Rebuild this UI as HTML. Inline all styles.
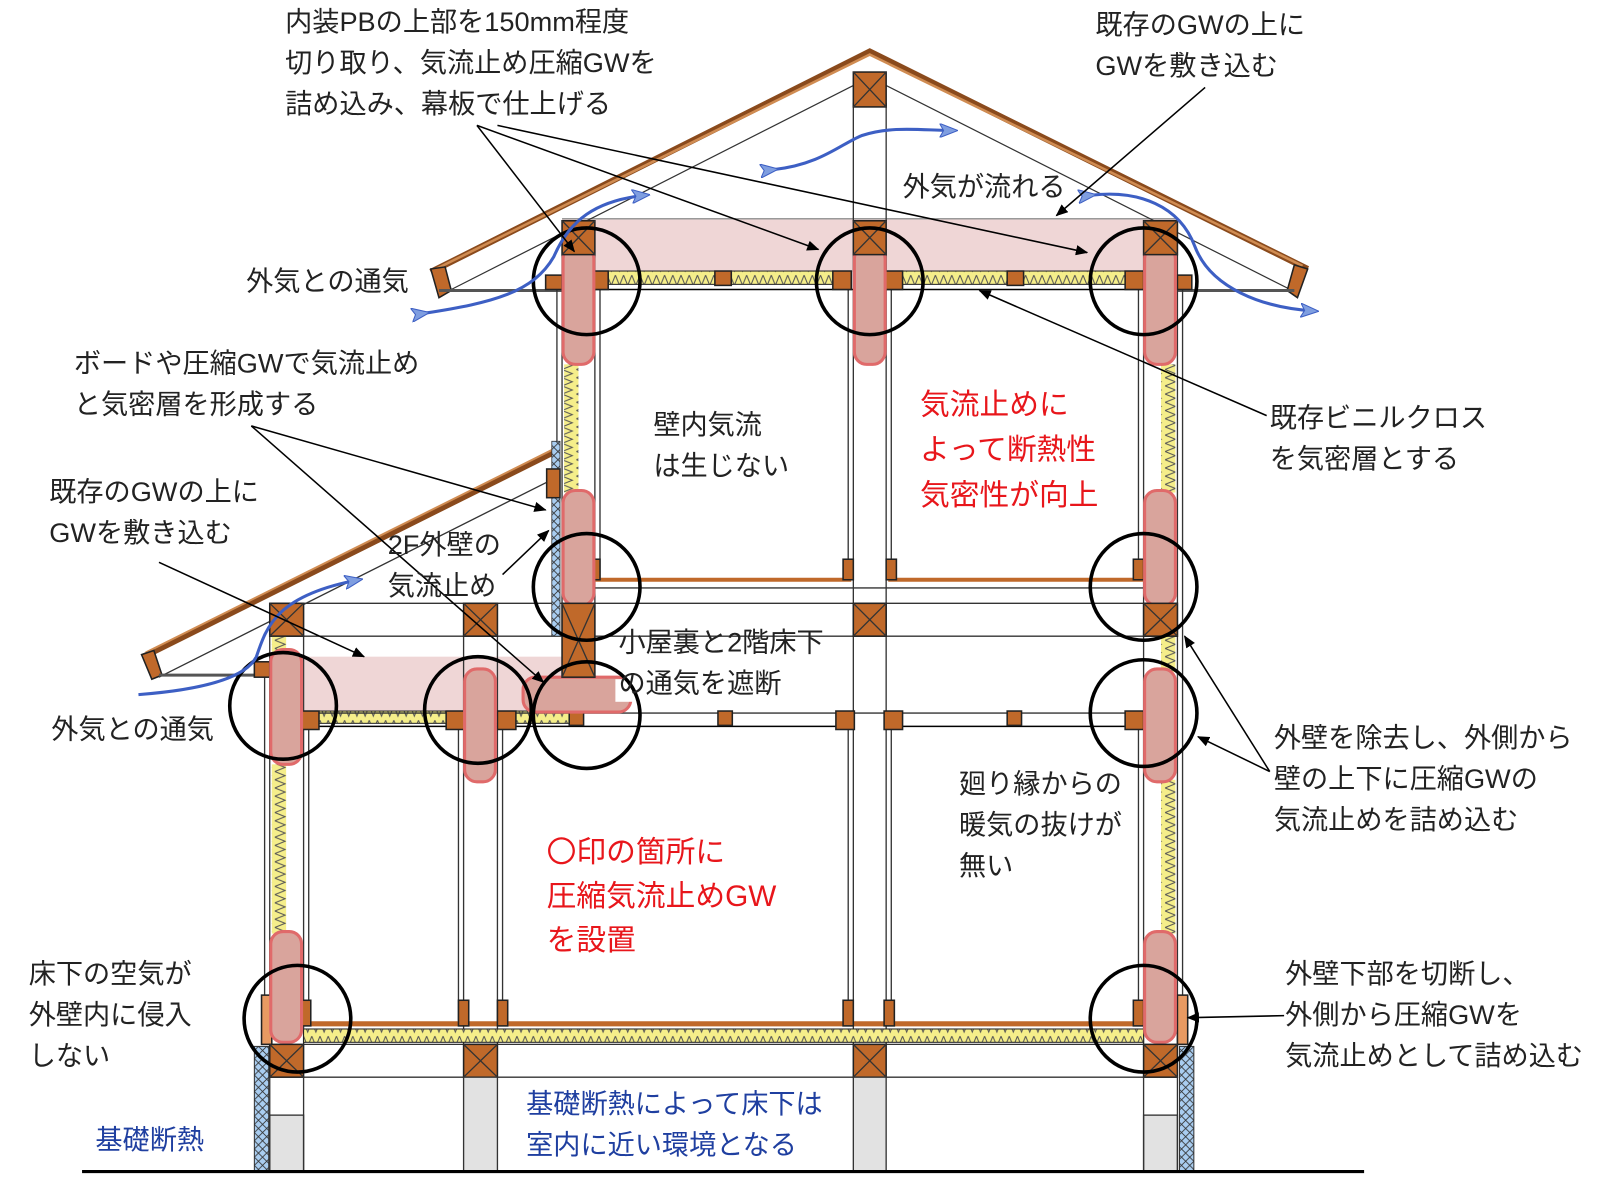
<!DOCTYPE html>
<html><head><meta charset="utf-8"><style>
html,body{margin:0;padding:0;background:#fff}
svg{display:block}
text{font-family:"Liberation Sans","Noto Sans CJK JP",sans-serif;font-size:26.5px;fill:#222}
.r{fill:#e8161b;font-size:29px}
.b{fill:#1f3fa0}
.blk{fill:#c0692a;stroke:#222;stroke-width:1.5}
.pad{fill:#d9a49c;stroke:#e06a6a;stroke-width:3}
.cir{fill:none;stroke:#000;stroke-width:3.5}
.ln{stroke:#000;stroke-width:1.5;fill:none}
.thin{stroke:#333;stroke-width:1.3;fill:none}
.air{fill:none;stroke:#3d5fc4;stroke-width:3}
</style></head><body>
<svg width="1600" height="1180" viewBox="0 0 1560 1150" xmlns="http://www.w3.org/2000/svg">
<defs>
<marker id="ah" markerWidth="12" markerHeight="10" refX="11" refY="5" orient="auto" markerUnits="userSpaceOnUse"><path d="M0,0 L12,5 L0,10 Z" fill="#000"/></marker>
<marker id="ab" markerWidth="18" markerHeight="14" refX="14" refY="7" orient="auto" markerUnits="userSpaceOnUse"><path d="M0,0 L18,7 L0,14 L4,7 Z" fill="#7f9ee0" stroke="#3d5fc4"/></marker>
<pattern id="zz" width="8" height="14" patternUnits="userSpaceOnUse"><rect width="8" height="14" fill="#f5ee8a"/><path d="M0,2 L4,12 L8,2" stroke="#555" fill="none" stroke-width="1"/></pattern>
<pattern id="zzv" width="14" height="8" patternUnits="userSpaceOnUse"><rect width="14" height="8" fill="#f5ee8a"/><path d="M2,0 L12,4 L2,8" stroke="#555" fill="none" stroke-width="1"/></pattern>
<pattern id="xh" width="8" height="8" patternUnits="userSpaceOnUse"><rect width="8" height="8" fill="#a9cdf0"/><path d="M0,0L8,8M8,0L0,8" stroke="#333" stroke-width="0.8"/></pattern>
</defs>

<rect x="548" y="213" width="600" height="52" fill="#efd6d6"/>
<line x1="548" y1="213" x2="1148" y2="213" stroke="#999" stroke-width="1.5"/>
<rect x="293" y="640" width="270" height="55" fill="#efd6d6"/>

<path d="M420,265 L848,50 L1275,262" fill="none" stroke="#8a4a1c" stroke-width="6"/>
<path d="M425,262 L848,53 L1270,259" fill="none" stroke="#d08c52" stroke-width="2.5"/>
<path d="M440,282 L848,75 L1258,282" fill="none" stroke="#333" stroke-width="1.2"/>
<path d="M420,262 L428,290 L440,283 L434,260Z" class="blk"/>
<path d="M1275,262 L1265,290 L1255,283 L1262,258Z" class="blk"/>
<line x1="428" y1="283" x2="548" y2="283" stroke="#555" stroke-width="3"/>
<line x1="1148" y1="283" x2="1262" y2="283" stroke="#555" stroke-width="3"/>
<line x1="832" y1="100" x2="832" y2="215" stroke="#333" stroke-width="1.3"/>
<line x1="864" y1="100" x2="864" y2="215" stroke="#333" stroke-width="1.3"/>
<rect x="832" y="70" width="32" height="34" class="blk"/><path d="M832,70L864,104M864,70L832,104" class="thin"/>

<path d="M140,640 L545,438" stroke="#8a4a1c" stroke-width="6" fill="none"/>
<path d="M142,636 L545,435" stroke="#d08c52" stroke-width="2" fill="none"/>
<path d="M155,660 L543,465" class="thin"/>
<path d="M138,638 L148,662 L158,658 L150,634Z" class="blk"/>
<line x1="155" y1="658" x2="263" y2="658" stroke="#555" stroke-width="3"/>

<line x1="263" y1="588" x2="1148" y2="588" class="thin"/>
<line x1="263" y1="620" x2="1148" y2="620" class="thin"/>
<line x1="296" y1="1050" x2="1115" y2="1050" class="thin"/>
<line x1="296" y1="1018" x2="1115" y2="1018" class="thin"/>

<g class="thin">
<line x1="543" y1="282" x2="543" y2="430"/>
<line x1="548" y1="248" x2="548" y2="620"/><line x1="580" y1="248" x2="580" y2="620"/>
<line x1="585" y1="282" x2="585" y2="565"/>
<line x1="832" y1="248" x2="832" y2="620"/><line x1="864" y1="248" x2="864" y2="620"/>
<line x1="827" y1="282" x2="827" y2="565"/><line x1="869" y1="282" x2="869" y2="565"/>
<line x1="1115" y1="248" x2="1115" y2="1018"/><line x1="1148" y1="248" x2="1148" y2="1018"/>
<line x1="1110" y1="282" x2="1110" y2="565"/><line x1="1110" y1="710" x2="1110" y2="995"/>
<line x1="1153" y1="282" x2="1153" y2="1018"/>
<line x1="258" y1="658" x2="258" y2="1000"/>
<line x1="263" y1="620" x2="263" y2="1018"/><line x1="296" y1="620" x2="296" y2="1018"/>
<line x1="301" y1="710" x2="301" y2="995"/>
<line x1="452" y1="620" x2="452" y2="1018"/><line x1="485" y1="620" x2="485" y2="1018"/>
<line x1="447" y1="710" x2="447" y2="995"/><line x1="490" y1="710" x2="490" y2="995"/>
<line x1="832" y1="620" x2="832" y2="1018"/><line x1="864" y1="620" x2="864" y2="1018"/>
<line x1="827" y1="710" x2="827" y2="995"/><line x1="869" y1="710" x2="869" y2="995"/>
</g>
<rect x="550" y="355" width="14" height="125" fill="url(#zzv)"/>
<rect x="1132" y="355" width="14" height="125" fill="url(#zzv)"/>
<rect x="1132" y="620" width="14" height="35" fill="url(#zzv)"/>
<rect x="1132" y="760" width="14" height="150" fill="url(#zzv)"/>
<rect x="265" y="620" width="14" height="15" fill="url(#zzv)"/>
<rect x="265" y="745" width="14" height="165" fill="url(#zzv)"/>
<rect x="538" y="430" width="8" height="190" fill="url(#xh)" stroke="#333" stroke-width="0.8"/>
<rect x="533" y="457" width="13" height="28" class="blk"/>

<rect x="575" y="264" width="255" height="13" fill="url(#zz)" stroke="#222"/>
<rect x="862" y="264" width="253" height="13" fill="url(#zz)" stroke="#222"/>
<line x1="575" y1="282" x2="1115" y2="282" class="ln"/>
<rect x="293" y="693" width="270" height="12" fill="url(#zz)" stroke="#222"/>
<line x1="293" y1="708" x2="832" y2="708" class="ln"/><line x1="864" y1="708" x2="1115" y2="708" class="ln"/>
<line x1="293" y1="695" x2="1115" y2="695" class="thin"/>
<line x1="580" y1="565" x2="830" y2="565" stroke="#c0692a" stroke-width="4"/>
<line x1="866" y1="565" x2="1115" y2="565" stroke="#c0692a" stroke-width="4"/>
<line x1="580" y1="573" x2="1115" y2="573" class="thin"/>
<line x1="296" y1="998" x2="1115" y2="998" stroke="#c0692a" stroke-width="5"/>
<rect x="296" y="1003" width="819" height="13" fill="url(#zz)" stroke="#222"/>

<g class="blk">
<rect x="575" y="264" width="18" height="18"/><rect x="697" y="264" width="16" height="14"/>
<rect x="812" y="264" width="18" height="18"/><rect x="862" y="264" width="18" height="18"/>
<rect x="982" y="264" width="16" height="14"/><rect x="1097" y="264" width="18" height="18"/>
<rect x="532" y="268" width="16" height="14"/><rect x="1148" y="268" width="14" height="14"/>
<rect x="293" y="693" width="18" height="18"/><rect x="435" y="693" width="18" height="18"/>
<rect x="485" y="693" width="18" height="18"/><rect x="555" y="693" width="14" height="14"/>
<rect x="700" y="693" width="14" height="14"/><rect x="815" y="693" width="18" height="18"/>
<rect x="862" y="693" width="18" height="18"/><rect x="982" y="693" width="14" height="14"/>
<rect x="1097" y="693" width="18" height="18"/><rect x="248" y="645" width="15" height="15"/>
<rect x="575" y="545" width="10" height="20"/><rect x="822" y="545" width="10" height="20"/>
<rect x="864" y="545" width="10" height="20"/><rect x="1105" y="545" width="10" height="20"/>
<rect x="293" y="975" width="10" height="25"/><rect x="447" y="975" width="10" height="25"/>
<rect x="485" y="975" width="10" height="25"/><rect x="822" y="975" width="10" height="25"/>
<rect x="862" y="975" width="10" height="25"/><rect x="1105" y="975" width="10" height="25"/>
<rect x="255" y="970" width="10" height="48" fill="#e89a62"/><rect x="1148" y="970" width="10" height="48" fill="#e89a62"/>
</g>

<g class="pad">
<rect x="549" y="240" width="30" height="115" rx="12"/>
<rect x="833" y="240" width="30" height="115" rx="12"/>
<rect x="1116" y="240" width="30" height="115" rx="12"/>
<rect x="549" y="478" width="30" height="112" rx="12"/>
<rect x="1116" y="478" width="30" height="112" rx="12"/>
<rect x="264" y="633" width="30" height="112" rx="12"/>
<rect x="453" y="652" width="30" height="110" rx="12"/>
<rect x="1116" y="652" width="30" height="110" rx="12"/>
<rect x="264" y="908" width="30" height="108" rx="12"/>
<rect x="1116" y="908" width="30" height="108" rx="12"/>
<rect x="510" y="660" width="105" height="34" rx="12"/>
</g>
<rect x="600" y="662" width="18" height="22" fill="#fff"/>

<g>
<rect x="548" y="215" width="32" height="33" class="blk"/><path d="M548,215L580,248M580,215L548,248" class="thin"/>
<rect x="832" y="215" width="32" height="33" class="blk"/><path d="M832,215L864,248M864,215L832,248" class="thin"/>
<rect x="1115" y="215" width="33" height="33" class="blk"/><path d="M1115,215L1148,248M1148,215L1115,248" class="thin"/>
<rect x="548" y="588" width="32" height="72" class="blk"/><path d="M548,588L580,660M580,588L548,660" class="thin"/>
<rect x="832" y="588" width="32" height="32" class="blk"/><path d="M832,588L864,620M864,588L832,620" class="thin"/>
<rect x="1115" y="588" width="33" height="32" class="blk"/><path d="M1115,588L1148,620M1148,588L1115,620" class="thin"/>
<rect x="263" y="588" width="33" height="32" class="blk"/><path d="M263,588L296,620M296,588L263,620" class="thin"/>
<rect x="452" y="588" width="33" height="32" class="blk"/><path d="M452,588L485,620M485,588L452,620" class="thin"/>
<rect x="263" y="1018" width="33" height="32" class="blk"/><path d="M263,1018L296,1050M296,1018L263,1050" class="thin"/>
<rect x="452" y="1018" width="33" height="32" class="blk"/><path d="M452,1018L485,1050M485,1018L452,1050" class="thin"/>
<rect x="832" y="1018" width="32" height="32" class="blk"/><path d="M832,1018L864,1050M864,1018L832,1050" class="thin"/>
<rect x="1115" y="1018" width="33" height="32" class="blk"/><path d="M1115,1018L1148,1050M1148,1018L1115,1050" class="thin"/>
</g>

<g stroke="#333" stroke-width="1.3">
<rect x="263" y="1087" width="33" height="55" fill="#e2e2e2"/>
<rect x="452" y="1050" width="33" height="92" fill="#e2e2e2"/>
<rect x="832" y="1050" width="32" height="92" fill="#e2e2e2"/>
<rect x="1115" y="1087" width="33" height="55" fill="#e2e2e2"/>
</g>
<line x1="263" y1="1050" x2="263" y2="1142" class="thin"/><line x1="296" y1="1050" x2="296" y2="1142" class="thin"/>
<line x1="1115" y1="1050" x2="1115" y2="1142" class="thin"/><line x1="1148" y1="1050" x2="1148" y2="1142" class="thin"/>
<rect x="248" y="1020" width="14" height="122" fill="url(#xh)" stroke="#333"/>
<rect x="1150" y="1020" width="14" height="122" fill="url(#xh)" stroke="#333"/>
<line x1="80" y1="1142" x2="1330" y2="1142" stroke="#000" stroke-width="3"/>

<g class="cir">
<circle cx="572" cy="274" r="52"/><circle cx="848" cy="274" r="52"/><circle cx="1115" cy="274" r="52"/>
<circle cx="572" cy="572" r="52"/><circle cx="1115" cy="572" r="52"/>
<circle cx="276" cy="688" r="52"/><circle cx="466" cy="692" r="52"/><circle cx="572" cy="697" r="52"/>
<circle cx="1115" cy="695" r="52"/>
<circle cx="290" cy="993" r="52"/><circle cx="1115" cy="993" r="52"/>
</g>

<g class="air">
<path d="M415,305 C480,295 520,285 540,250 C555,215 580,195 630,190" marker-end="url(#ab)" marker-start="url(#ab)"/>
<path d="M755,165 C800,160 820,140 840,132 C870,122 900,127 930,127" marker-end="url(#ab)" marker-start="url(#ab)"/>
<path d="M1065,190 C1110,185 1150,200 1165,240 C1180,280 1230,300 1282,303" marker-end="url(#ab)" marker-start="url(#ab)"/>
<path d="M135,677 C200,672 240,660 250,640 C260,610 270,580 350,565" marker-end="url(#ab)"/>
</g>

<g class="ln">
<line x1="465" y1="122" x2="560" y2="245" marker-end="url(#ah)"/>
<line x1="465" y1="122" x2="798" y2="243" marker-end="url(#ah)"/>
<line x1="485" y1="122" x2="1060" y2="246" marker-end="url(#ah)"/>
<line x1="1175" y1="85" x2="1030" y2="210" marker-end="url(#ah)"/>
<line x1="1235" y1="405" x2="955" y2="283" marker-end="url(#ah)"/>
<line x1="245" y1="415" x2="532" y2="497" marker-end="url(#ah)"/>
<line x1="245" y1="415" x2="530" y2="665" marker-end="url(#ah)"/>
<line x1="155" y1="548" x2="355" y2="640" marker-end="url(#ah)"/>
<line x1="490" y1="560" x2="535" y2="517" marker-end="url(#ah)"/>
<line x1="1238" y1="752" x2="1155" y2="620" marker-end="url(#ah)"/>
<line x1="1238" y1="752" x2="1168" y2="718" marker-end="url(#ah)"/>
<line x1="1252" y1="990" x2="1158" y2="992" marker-end="url(#ah)"/>
</g>

<text x="278" y="30">内装PBの上部を150mm程度</text>
<text x="278" y="70">切り取り、気流止め圧縮GWを</text>
<text x="278" y="110">詰め込み、幕板で仕上げる</text>
<text x="1068" y="33">既存のGWの上に</text>
<text x="1068" y="73">GWを敷き込む</text>
<text x="880" y="191">外気が流れる</text>
<text x="240" y="283">外気との通気</text>
<text x="72" y="363">ボードや圧縮GWで気流止め</text>
<text x="72" y="403">と気密層を形成する</text>
<text x="48" y="488">既存のGWの上に</text>
<text x="48" y="528">GWを敷き込む</text>
<text x="378" y="540">2F外壁の</text>
<text x="378" y="580">気流止め</text>
<text x="637" y="423">壁内気流</text>
<text x="637" y="463">は生じない</text>
<text class="r" x="897" y="404">気流止めに</text>
<text class="r" x="897" y="448">よって断熱性</text>
<text class="r" x="897" y="492">気密性が向上</text>
<text x="1238" y="416">既存ビニルクロス</text>
<text x="1238" y="456">を気密層とする</text>
<text x="603" y="635">小屋裏と2階床下</text>
<text x="603" y="675">の通気を遮断</text>
<text x="50" y="720">外気との通気</text>
<text x="1242" y="728">外壁を除去し、外側から</text>
<text x="1242" y="768">壁の上下に圧縮GWの</text>
<text x="1242" y="808">気流止めを詰め込む</text>
<text x="935" y="773">廻り縁からの</text>
<text x="935" y="813">暖気の抜けが</text>
<text x="935" y="853">無い</text>
<text class="r" x="533" y="840">〇印の箇所に</text>
<text class="r" x="533" y="883">圧縮気流止めGW</text>
<text class="r" x="533" y="926">を設置</text>
<text x="28" y="958">床下の空気が</text>
<text x="28" y="998">外壁内に侵入</text>
<text x="28" y="1038">しない</text>
<text x="1253" y="958">外壁下部を切断し、</text>
<text x="1253" y="998">外側から圧縮GWを</text>
<text x="1253" y="1038">気流止めとして詰め込む</text>
<text class="b" x="93" y="1120">基礎断熱</text>
<rect x="505" y="1058" width="320" height="82" fill="#fff"/>
<text class="b" x="513" y="1085">基礎断熱によって床下は</text>
<text class="b" x="513" y="1125">室内に近い環境となる</text>
</svg>
</body></html>
